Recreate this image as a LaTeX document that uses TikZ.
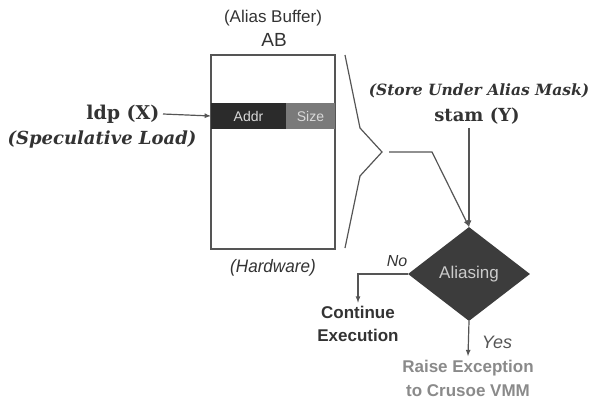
\documentclass[tikz,border=0pt]{standalone}
\usepackage{fontspec}
\setmainfont{DejaVu Serif}
\setsansfont{Liberation Sans}
\usepackage{xcolor}
\usetikzlibrary{positioning, shapes.geometric}
\definecolor{ink}{HTML}{333333}
\definecolor{wire}{HTML}{555555}
\definecolor{addrfill}{HTML}{2B2B2B}
\definecolor{sizefill}{HTML}{7A7A7A}
\definecolor{aliasfill}{HTML}{3C3C3C}
\definecolor{raisegray}{HTML}{8A8A8A}
\tikzset{
  sanslbl/.style={font=\sffamily\fontsize{#1}{#1}\selectfont, text=ink},
  seriflbl/.style={font=\rmfamily\bfseries\fontsize{#1}{#1}\selectfont, text=ink},
  wireline/.style={draw=wire, line width=1.2pt},
  cell/.style={inner sep=0pt, outer sep=0pt, minimum height=26pt},
}

\begin{document}
\begin{tikzpicture}[x=1pt, y=-1pt, >=latex]
  \useasboundingbox (0,0) rectangle (592,399);

  % Alias buffer
  \node[sanslbl=17] (abname) at (273,18) {(Alias Buffer)};
  \node[sanslbl=19] (ab) at (274,40) {AB};
  \node[draw=wire, line width=1.2pt, inner sep=0pt, minimum width=124pt, minimum height=194pt] (buf) at (273,152) {};
  \node[cell, fill=addrfill, minimum width=75pt] (addr) at (248.5,116)
    {\sffamily\fontsize{14}{14}\selectfont\color{white!85!black}Addr};
  \node[cell, fill=sizefill, minimum width=49pt] (size) at (310.5,116)
    {\sffamily\fontsize{14}{14}\selectfont\color{white!85!black}Size};
  \node[sanslbl=18, font=\sffamily\itshape\fontsize{18}{18}\selectfont, xscale=0.95] (hw) at (273,268) {(Hardware)};

  % Speculative load
  \node[seriflbl=19, anchor=east] (ldp) at (163,114) {ldp (X)};
  \node[seriflbl=18, font=\rmfamily\bfseries\itshape\fontsize{18}{18}\selectfont] (spec) at (102,140) {(Speculative Load)};
  \draw[wireline, ->] (ldp.east) -- (addr.west);

  % Brace
  \draw[wireline] (345,55) -- (360,128) -- (382,152) -- (360,176) -- (345,248);
  \coordinate (tip) at (389,152);
  \coordinate (bend) at (432,152);

  % Store under alias mask
  \node[seriflbl=15, font=\rmfamily\bfseries\itshape\fontsize{15.5}{15.5}\selectfont] (store) at (479,91) {(Store Under Alias Mask)};
  \node[seriflbl=18] (stam) at (477,116) {stam (Y)};

  % Decision
  \node[diamond, fill=aliasfill, inner sep=0pt, minimum width=122pt, minimum height=94pt] (alias) at (469,274)
    {\sffamily\fontsize{17}{17}\selectfont\color{white!80!black}Aliasing};
  \draw[wireline, ->] (tip) -- (bend) -- (alias.north);
  \draw[wireline, ->] (stam.south -| alias.north) -- (alias.north);

  % Outcomes
  \node[sanslbl=17, font=\sffamily\bfseries\fontsize{17}{23}\selectfont, align=center] (cont) at (358,324) {Continue\\Execution};
  \node[sanslbl=17, font=\sffamily\bfseries\fontsize{17}{24}\selectfont, align=center, text=raisegray] (raise) at (468,378) {Raise Exception\\to Crusoe VMM};
  \coordinate (nocorner) at (358,274);
  \draw[wireline, ->] (alias.west) -- (nocorner) -- (cont.north);
  \draw[wireline, ->] (alias.south) -- (raise.north);
  \node[sanslbl=16, font=\sffamily\itshape\fontsize{16}{16}\selectfont] (no) at (397,261) {No};
  \node[sanslbl=18, font=\sffamily\itshape\fontsize{18}{18}\selectfont, text=wire] (yes) at (497,342) {Yes};
\end{tikzpicture}
\end{document}
